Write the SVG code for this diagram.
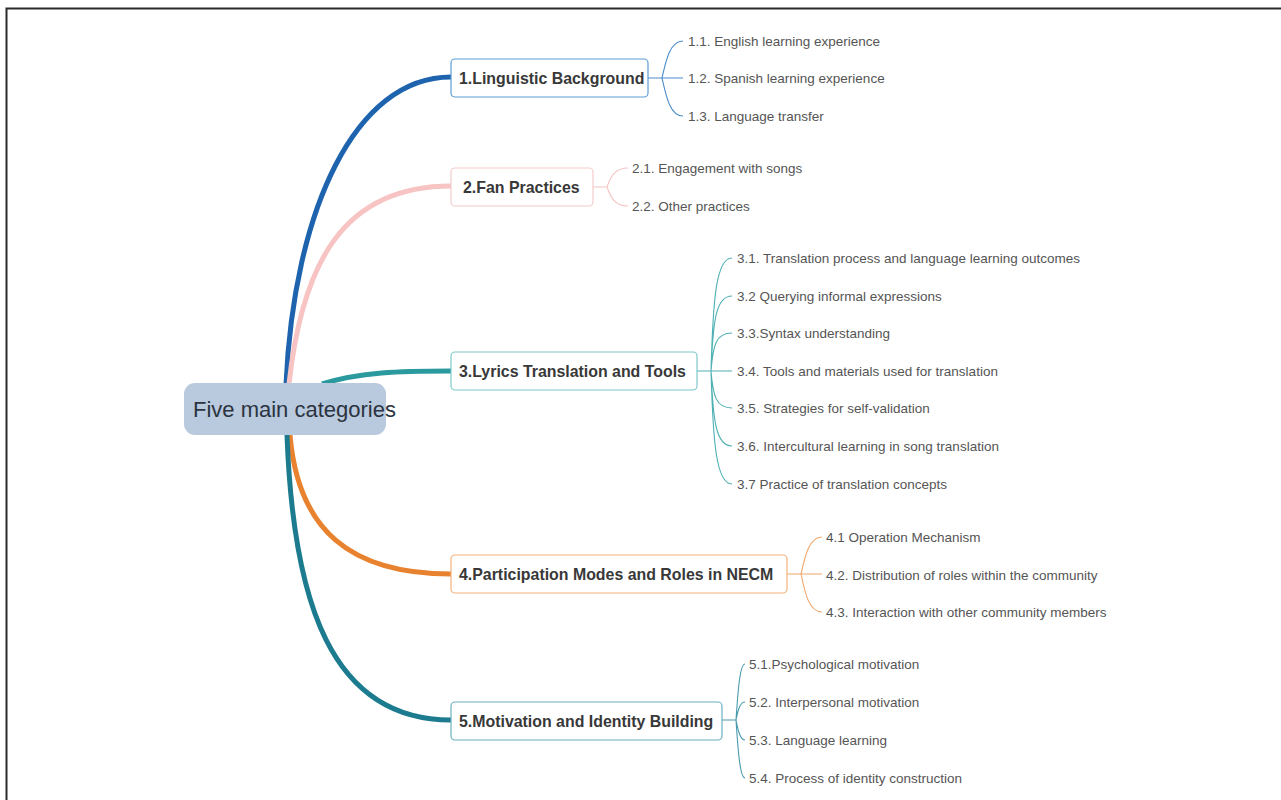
<svg xmlns="http://www.w3.org/2000/svg" width="1281" height="800" viewBox="0 0 1281 800">
<style>
.t{font-family:"Liberation Sans",Arial,sans-serif;font-size:15.9px;font-weight:bold;fill:#383838;dominant-baseline:central}
.s{font-family:"Liberation Sans",Arial,sans-serif;font-size:13.5px;fill:#555;dominant-baseline:central}
.c{font-family:"Liberation Sans",Arial,sans-serif;font-size:22px;fill:#2b3440;dominant-baseline:central}
.br{fill:none;stroke-width:5;stroke-linecap:butt}
.sb{fill:none;stroke-width:1.1}
.box{fill:#fff;stroke-width:1.2}
</style>
<rect x="0" y="0" width="1281" height="800" fill="#fff"/>
<path d="M6.5 800 V8.5 H1281" fill="none" stroke="#2a2a2a" stroke-width="2"/>
<g id="connectors">
<path class="br" stroke="#1e63ad" d="M286 384 C294 210,355 77,451 77"/>
<path class="br" stroke="#f7c3c3" d="M289 384 C302 265,342 186,451 186"/>
<path class="br" stroke="#2a9a9f" d="M322 384 C360 372,400 371,451 371"/>
<path class="br" stroke="#e8822f" d="M290 435 C298 530,350 574,451 574"/>
<path class="br" stroke="#1c7b8e" d="M287 435 C293 600,330 720,451 720"/>
<g stroke="#4a8ccc" class="sb">
<path d="M648 78 H662 M662 78 C666 60,670 41,683 41 M662 78 H683 M662 78 C666 96,670 116,683 116"/>
</g>
<g stroke="#f5c4c4" class="sb">
<path d="M593 187 H607 M607 187 C611 176,615 168,628 168 M607 187 C611 198,615 206,628 206"/>
</g>
<g stroke="#4fb0b4" class="sb">
<path d="M697 371 H711 M711 371 C713 300,716 258,732 258 M711 371 C713 320,716 296,732 296 M711 371 C713 345,716 333,732 333 M711 371 H732 M711 371 C713 396,716 408,732 408 M711 371 C713 421,716 446,732 446 M711 371 C713 441,716 484,732 484"/>
</g>
<g stroke="#eea66a" class="sb">
<path d="M787 574 H801 M801 574 C805 556,809 537,822 537 M801 574 H822 M801 574 C805 593,809 612,822 612"/>
</g>
<g stroke="#4a9aae" class="sb">
<path d="M722 720 H736 M736 720 C738 690,740 664,745 664 M736 720 C738 710,740 702,745 702 M736 720 C738 730,740 740,745 740 M736 720 C738 750,740 778,745 778"/>
</g>
</g>
<g id="center">
<rect x="184" y="383" width="202" height="52" rx="11" fill="#b9c9de"/>
<text class="c" x="193" y="409">Five main categories</text>
</g>
<g id="n1">
<rect class="box" x="451" y="59" width="197" height="38" rx="4" stroke="#5d9dd6"/>
<text class="t" x="459" y="78">1.Linguistic Background</text>
<text class="s" x="688" y="41">1.1. English learning experience</text>
<text class="s" x="688" y="78">1.2. Spanish learning experience</text>
<text class="s" x="688" y="116">1.3. Language transfer</text>
</g>
<g id="n2">
<rect class="box" x="451" y="168" width="142" height="38" rx="4" stroke="#f5cccc"/>
<text class="t" x="463" y="187">2.Fan Practices</text>
<text class="s" x="632" y="168">2.1. Engagement with songs</text>
<text class="s" x="632" y="206">2.2. Other practices</text>
</g>
<g id="n3">
<rect class="box" x="451" y="352" width="246" height="38" rx="4" stroke="#7ec8ca"/>
<text class="t" x="459" y="371">3.Lyrics Translation and Tools</text>
<text class="s" x="737" y="258">3.1. Translation process and language learning outcomes</text>
<text class="s" x="737" y="296">3.2 Querying informal expressions</text>
<text class="s" x="737" y="333">3.3.Syntax understanding</text>
<text class="s" x="737" y="371">3.4. Tools and materials used for translation</text>
<text class="s" x="737" y="408">3.5. Strategies for self-validation</text>
<text class="s" x="737" y="446">3.6. Intercultural learning in song translation</text>
<text class="s" x="737" y="484">3.7 Practice of translation concepts</text>
</g>
<g id="n4">
<rect class="box" x="451" y="555" width="336" height="38" rx="4" stroke="#f2b27a"/>
<text class="t" x="459" y="574">4.Participation Modes and Roles in NECM</text>
<text class="s" x="826" y="537">4.1 Operation Mechanism</text>
<text class="s" x="826" y="575">4.2. Distribution of roles within the community</text>
<text class="s" x="826" y="612">4.3. Interaction with other community members</text>
</g>
<g id="n5">
<rect class="box" x="451" y="702" width="271" height="38" rx="4" stroke="#6ab0c0"/>
<text class="t" x="459" y="721">5.Motivation and Identity Building</text>
<text class="s" x="749" y="664">5.1.Psychological motivation</text>
<text class="s" x="749" y="702">5.2. Interpersonal motivation</text>
<text class="s" x="749" y="740">5.3. Language learning</text>
<text class="s" x="749" y="778">5.4. Process of identity construction</text>
</g>
</svg>
